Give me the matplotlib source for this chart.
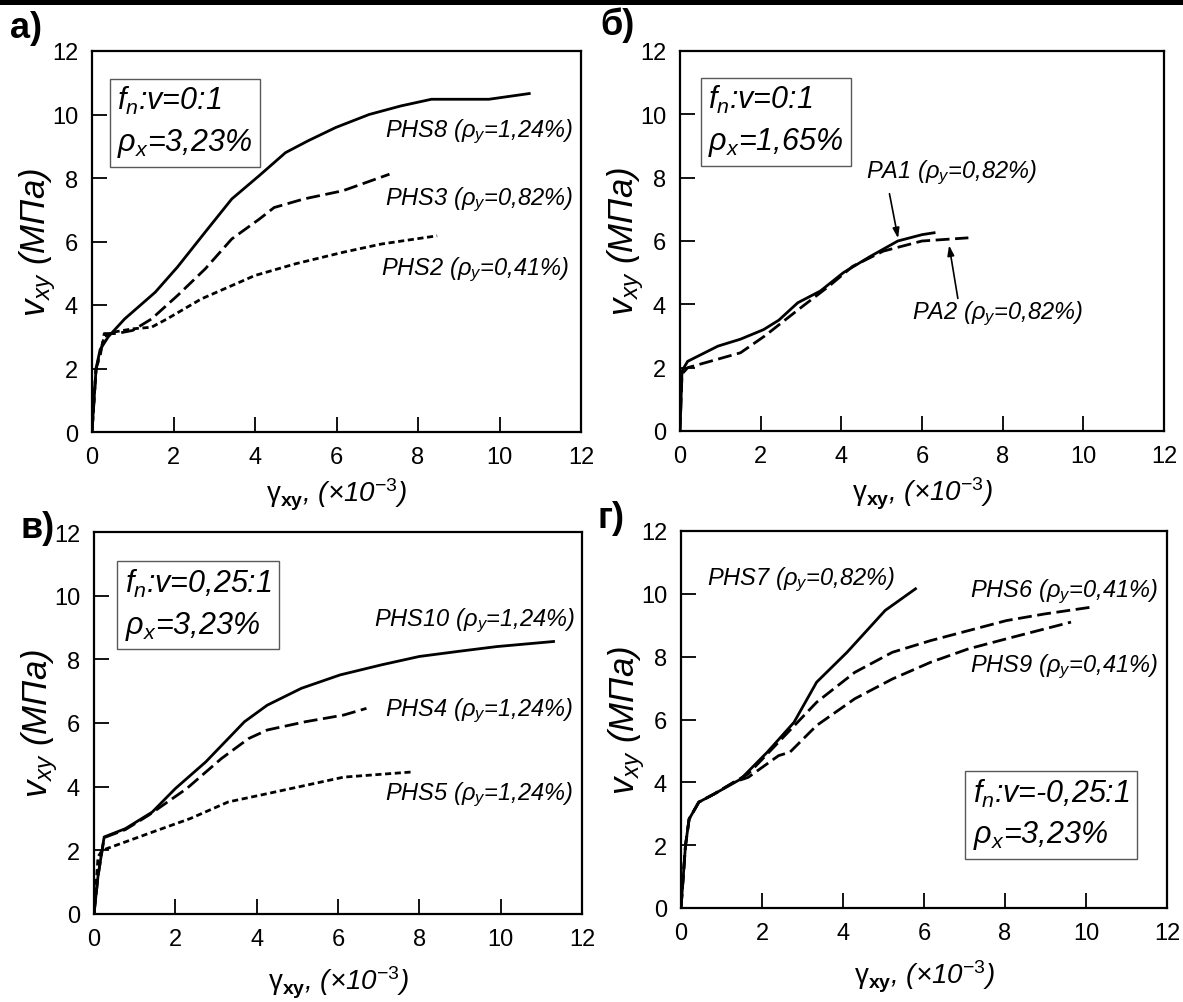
import matplotlib
matplotlib.use("Agg")
import matplotlib.pyplot as plt
from matplotlib.patches import Rectangle

plt.rcParams["font.family"] = ["Liberation Sans", "DejaVu Sans"]
plt.rcParams["mathtext.fontset"] = "custom"
plt.rcParams["mathtext.rm"] = "Liberation Sans"
plt.rcParams["mathtext.it"] = "Liberation Sans:italic"
plt.rcParams["mathtext.bf"] = "Liberation Sans:bold"

# ---- panel а) f_n:v=0:1, rho_x=3,23% ----
A_PHS8_X = [0, 0.05, 0.1, 0.2, 0.4, 0.8, 1.55, 2.1, 2.78, 3.43, 4.1, 4.75, 5.3, 5.98, 6.8, 7.58, 8.33, 9.0, 9.74, 10.73]
A_PHS8_Y = [0, 1.0, 2.0, 2.6, 3.0, 3.56, 4.4, 5.2, 6.3, 7.34, 8.07, 8.8, 9.17, 9.59, 10.0, 10.27, 10.48, 10.48, 10.48, 10.66]
A_PHS3_X = [0, 0.1, 0.2, 0.3, 0.6, 1.0, 1.46, 2.1, 2.78, 3.43, 4.1, 4.47, 5.2, 6.16, 7.3]
A_PHS3_Y = [0, 2.0, 2.4, 3.1, 3.1, 3.2, 3.56, 4.3, 5.14, 6.08, 6.7, 7.07, 7.34, 7.6, 8.12]
A_PHS2_X = [0, 0.1, 0.2, 0.3, 0.5, 1.0, 1.46, 1.84, 2.68, 4.0, 5.0, 6.16, 7.1, 8.47]
A_PHS2_Y = [0, 2.0, 2.5, 3.0, 3.14, 3.25, 3.3, 3.56, 4.19, 4.93, 5.3, 5.66, 5.92, 6.18]

# ---- panel б) f_n:v=0:1, rho_x=1,65% ----
B_PA1_X = [0, 0.05, 0.19, 0.94, 1.5, 2.07, 2.45, 2.92, 3.48, 4.05, 4.7, 5.4, 6.0, 6.3]
B_PA1_Y = [0, 1.9, 2.2, 2.68, 2.9, 3.2, 3.5, 4.05, 4.42, 5.0, 5.5, 6.0, 6.2, 6.26]
B_PA2_X = [0, 0.05, 0.19, 1.5, 2.1, 2.94, 3.7, 4.28, 5.04, 6.0, 7.15]
B_PA2_Y = [0, 1.8, 2.0, 2.47, 3.0, 3.84, 4.58, 5.2, 5.68, 6.0, 6.1]

# ---- panel в) f_n:v=0,25:1, rho_x=3,23% ----
C_PHS10_X = [0, 0.1, 0.25, 0.77, 1.43, 2.0, 2.75, 3.7, 4.26, 5.1, 6.05, 7.08, 8.0, 8.96, 9.9, 11.3]
C_PHS10_Y = [0, 1.2, 2.42, 2.68, 3.2, 3.94, 4.78, 6.04, 6.56, 7.09, 7.51, 7.83, 8.09, 8.25, 8.4, 8.56]
C_PHS4_X = [0, 0.1, 0.25, 0.77, 1.34, 2.28, 3.13, 3.8, 4.26, 5.2, 6.14, 6.7]
C_PHS4_Y = [0, 1.2, 2.4, 2.65, 3.1, 3.94, 4.88, 5.51, 5.78, 6.04, 6.25, 6.46]
C_PHS5_X = [0, 0.1, 0.2, 1.43, 2.37, 3.3, 4.26, 5.2, 6.14, 7.8]
C_PHS5_Y = [0, 1.8, 2.0, 2.57, 3.0, 3.52, 3.78, 4.04, 4.3, 4.46]

# ---- panel г) f_n:v=-0,25:1, rho_x=3,23% ----
D_PHS7_X = [0, 0.11, 0.2, 0.44, 0.82, 1.47, 2.13, 2.79, 3.35, 4.1, 5.04, 5.79]
D_PHS7_Y = [0, 1.98, 2.83, 3.37, 3.63, 4.1, 4.96, 5.91, 7.19, 8.14, 9.47, 10.16]
D_PHS6_X = [0, 0.11, 0.2, 0.44, 0.82, 1.3, 1.66, 2.41, 3.35, 4.29, 5.22, 6.16, 7.1, 8.04, 8.98, 10.1]
D_PHS6_Y = [0, 1.98, 2.83, 3.37, 3.63, 4.0, 4.27, 5.28, 6.55, 7.5, 8.14, 8.51, 8.83, 9.15, 9.36, 9.57]
D_PHS9_X = [0, 0.11, 0.2, 0.44, 0.82, 1.3, 1.66, 2.41, 2.69, 3.35, 4.29, 5.22, 6.16, 7.1, 8.04, 9.63]
D_PHS9_Y = [0, 1.98, 2.83, 3.37, 3.63, 4.0, 4.16, 4.85, 4.96, 5.81, 6.66, 7.29, 7.82, 8.25, 8.57, 9.1]

TICKS = [0, 2, 4, 6, 8, 10, 12]
YLABEL = "$v_{xy}$ (МПа)"
XLABEL = r"$\mathrm{γ}_{\mathbf{xy}}$, (×10$^{-3}$)"

SOLID = dict(color="black", lw=2.0, ls="-")
DASH = dict(color="black", lw=2.0, ls=(0, (5, 2.0)))
SHORT = dict(color="black", lw=2.0, ls=(0, (2.2, 1.3)))

fig = plt.figure(figsize=(11.83, 10.03), dpi=100)
fig.add_artist(Rectangle((0, 1 - 6 / 1003), 1, 6 / 1003, transform=fig.transFigure,
                         color="black", lw=0))

# axes boxes measured in reference pixels: left, top, right, bottom
BOXES = [(92, 52, 581, 433), (680, 52, 1164, 432), (94, 533, 582, 915), (681, 532, 1167, 909)]
axes = [fig.add_axes([l / 1183, 1 - b / 1003, (r - l) / 1183, (b - t) / 1003])
        for l, t, r, b in BOXES]

for i, ax in enumerate(axes):
    ax.set_xlim(0, 12); ax.set_ylim(0, 12)
    ax.set_xticks(TICKS); ax.set_yticks(TICKS)
    ax.tick_params(direction="in", length=11, width=1.3, labelsize=17, pad=10,
                   top=False, right=False)
    for s in ax.spines.values():
        s.set_linewidth(1.6)
    ax.set_ylabel(YLABEL, fontsize=25, style="italic")
    ax.yaxis.set_label_coords(-0.07, 0.5)
    ax.set_xlabel(XLABEL, fontsize=20, style="italic", labelpad=6 if i < 2 else 10)

BOX = dict(boxstyle="square,pad=0.25", fc="white", ec="0.35", lw=1.0)
LBL = dict(fontsize=17, style="italic")
BTXT = dict(fontsize=22, style="italic", va="top", ha="left", linespacing=1.4, bbox=BOX)

# а)
ax = axes[0]
ax.plot(A_PHS8_X, A_PHS8_Y, **SOLID)
ax.plot(A_PHS3_X, A_PHS3_Y, **DASH)
ax.plot(A_PHS2_X, A_PHS2_Y, **SHORT)
ax.text(0.62, 10.95, "$f_n$:v=0:1\nρ$_x$=3,23%", **BTXT)
ax.text(11.8, 9.49, "PHS8 (ρ$_y$=1,24%)", ha="right", va="center", **LBL)
ax.text(11.8, 7.34, "PHS3 (ρ$_y$=0,82%)", ha="right", va="center", **LBL)
ax.text(11.7, 5.14, "PHS2 (ρ$_y$=0,41%)", ha="right", va="center", **LBL)

# б)
ax = axes[1]
ax.plot(B_PA1_X, B_PA1_Y, **SOLID)
ax.plot(B_PA2_X, B_PA2_Y, **DASH)
ax.text(0.7, 10.98, "$f_n$:v=0:1\nρ$_x$=1,65%", **BTXT)
ax.text(4.61, 8.2, "PA1 (ρ$_y$=0,82%)", ha="left", va="center", **LBL)
ax.text(5.74, 3.74, "PA2 (ρ$_y$=0,82%)", ha="left", va="center", **LBL)
ax.annotate("", xy=(5.42, 6.0), xytext=(5.18, 7.58),
            arrowprops=dict(arrowstyle="-|>,head_length=0.6,head_width=0.2", color="black", lw=1.2))
ax.annotate("", xy=(6.66, 5.95), xytext=(6.9, 4.1),
            arrowprops=dict(arrowstyle="-|>,head_length=0.6,head_width=0.2", color="black", lw=1.2))

# в)
ax = axes[2]
ax.plot(C_PHS10_X, C_PHS10_Y, **SOLID)
ax.plot(C_PHS4_X, C_PHS4_Y, **DASH)
ax.plot(C_PHS5_X, C_PHS5_Y, **SHORT)
ax.text(0.76, 10.9, "$f_n$:v=0,25:1\nρ$_x$=3,23%", **BTXT)
ax.text(11.84, 9.24, "PHS10 (ρ$_y$=1,24%)", ha="right", va="center", **LBL)
ax.text(11.79, 6.4, "PHS4 (ρ$_y$=1,24%)", ha="right", va="center", **LBL)
ax.text(11.79, 3.78, "PHS5 (ρ$_y$=1,24%)", ha="right", va="center", **LBL)

# г)
ax = axes[3]
ax.plot(D_PHS7_X, D_PHS7_Y, **SOLID)
ax.plot(D_PHS6_X, D_PHS6_Y, **DASH)
ax.plot(D_PHS9_X, D_PHS9_Y, **DASH)
ax.text(7.2, 4.18, "$f_n$:v=-0,25:1\nρ$_x$=3,23%", **BTXT)
ax.text(0.63, 10.48, "PHS7 (ρ$_y$=0,82%)", ha="left", va="center", **LBL)
ax.text(11.79, 10.1, "PHS6 (ρ$_y$=0,41%)", ha="right", va="center", **LBL)
ax.text(11.79, 7.72, "PHS9 (ρ$_y$=0,41%)", ha="right", va="center", **LBL)

# panel letters
for txt, x, y in [("а)", 10, 28), ("б)", 600, 25), ("в)", 20, 529), ("г)", 598, 519)]:
    fig.text(x / 1183, 1 - y / 1003, txt, fontsize=26, fontweight="bold", ha="left", va="center")

fig.savefig("out.png", dpi=100)
